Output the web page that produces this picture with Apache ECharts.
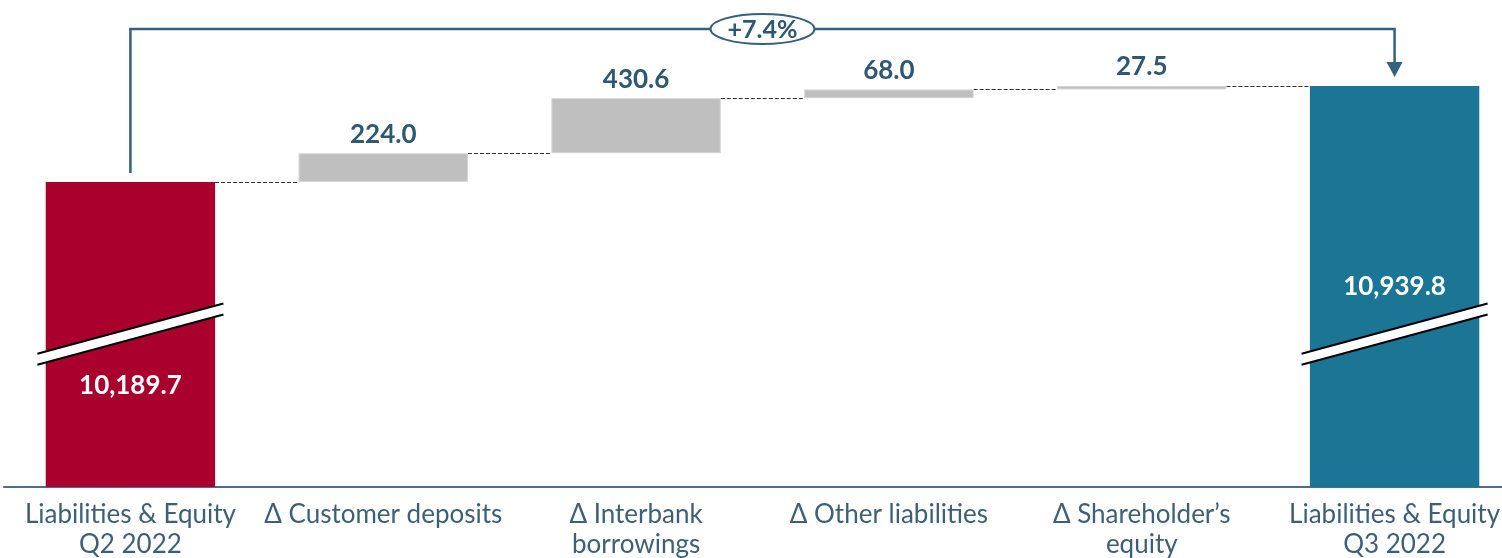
<!DOCTYPE html>
<html>
<head>
<meta charset="utf-8">
<script src="https://cdn.jsdelivr.net/npm/echarts@6/dist/echarts.min.js"></script>
<style>html,body{margin:0;padding:0;background:#fff;}#c{width:1502px;height:558px;}</style>
</head>
<body>
<div id="c"></div>
<script>
const categories = ['Liabilities & Equity\nQ2 2022', 'Δ Customer deposits', 'Δ Interbank\nborrowings', 'Δ Other liabilities', 'Δ Shareholder’s\nequity', 'Liabilities & Equity\nQ3 2022'];
const startTotal = 10189.7;
const deltas = [224.0, 430.6, 68.0, 27.5];
const endTotal = 10939.8;

const FONT = 'Lato';
const RED = '#AA002D', TEAL = '#1B7594', GRAY = '#BFBFBF', DARK = '#2E5872', AXIS = '#4D6E85';

const values = [startTotal, ...deltas, endTotal];
const levels = [startTotal];
deltas.forEach(d => levels.push(levels[levels.length - 1] + d));
const bases = [0, ...levels.slice(0, deltas.length), 0];
const pct = (endTotal / startTotal - 1) * 100;
const fmt = v => v.toLocaleString('en-US', {minimumFractionDigits: 1, maximumFractionDigits: 1});

const mainData = values.map((v, i) => {
  const isTotal = i === 0 || i === values.length - 1;
  const item = {value: v, itemStyle: {color: isTotal ? (i === 0 ? RED : TEAL) : GRAY,
    borderColor: isTotal ? 'transparent' : '#D6D6D6', borderWidth: isTotal ? 0 : 1}};
  if (isTotal) {
    item.label = {show: true, position: 'inside', color: '#fff', offset: i === 0 ? [0, 51] : [0, 0]};
  } else {
    item.label = {show: true, position: 'top', distance: 6, color: DARK};
  }
  return item;
});

const chart = echarts.init(document.getElementById('c'), null, {renderer: 'canvas'});
chart.setOption({
  animation: false,
  backgroundColor: '#fff',
  grid: {left: 4, width: 1517, top: 0, bottom: 71, containLabel: false, outerBoundsMode: 'none'},
  xAxis: {
    type: 'category', data: categories,
    axisTick: {show: false},
    axisLine: {lineStyle: {color: AXIS, width: 2}},
    axisLabel: {interval: 0, color: '#3D6079', fontFamily: FONT, fontSize: 26, lineHeight: 30, margin: 13}
  },
  yAxis: {type: 'value', min: 7806, max: 11611, show: false, splitLine: {show: false}},
  series: [
    {type: 'bar', stack: 'w', data: bases, barWidth: '67%', itemStyle: {color: 'transparent'}, silent: true},
    {type: 'bar', stack: 'w', data: mainData, barWidth: '67%',
      label: {fontFamily: FONT, fontWeight: 'bold', fontSize: 26, formatter: p => fmt(p.value)}},
    {type: 'custom', silent: true, clip: false,
      data: levels.map((v, i) => [i, v]),
      renderItem: (params, api) => {
        const p = api.coord([api.value(0), api.value(1)]);
        const band = api.size([1, 0])[0];
        const y = Math.round(p[1]) + 0.5;
        return {type: 'line', shape: {x1: p[0] + band * 0.335, y1: y, x2: p[0] + band * 0.665, y2: y},
          style: {stroke: '#333', lineWidth: 1, lineDash: [4, 2]}};
      }},
    {type: 'custom', silent: true, clip: false, z: 5,
      data: [[0, 9000], [values.length - 1, 9000]],
      renderItem: (params, api) => {
        const p = api.coord([api.value(0), api.value(1)]);
        const band = api.size([1, 0])[0];
        const h = band * 0.368, dy = h * 0.27, g = 5.5;
        const a = [p[0] - h, p[1] + dy - g], b = [p[0] + h, p[1] - dy - g];
        const c = [p[0] + h, p[1] - dy + g], d = [p[0] - h, p[1] + dy + g];
        return {type: 'group', children: [
          {type: 'polygon', shape: {points: [a, b, c, d]}, style: {fill: '#fff'}},
          {type: 'line', shape: {x1: a[0], y1: a[1], x2: b[0], y2: b[1]}, style: {stroke: '#000', lineWidth: 2}},
          {type: 'line', shape: {x1: d[0], y1: d[1], x2: c[0], y2: c[1]}, style: {stroke: '#000', lineWidth: 2}}
        ]};
      }},
    {type: 'custom', silent: true, clip: false, z: 6,
      data: [[0, startTotal, values.length - 1, endTotal]],
      renderItem: (params, api) => {
        const p0 = api.coord([api.value(0), api.value(1)]);
        const p1 = api.coord([api.value(2), api.value(3)]);
        const topY = params.coordSys.y + 29;
        const tipY = p1[1] - 9;
        const cx = (p0[0] + p1[0]) / 2;
        const col = '#34617D';
        return {type: 'group', children: [
          {type: 'polyline', shape: {points: [[p0[0], p0[1] - 9], [p0[0], topY], [p1[0], topY], [p1[0], tipY - 14]]},
            style: {stroke: col, lineWidth: 2.5, fill: null}},
          {type: 'polygon', shape: {points: [[p1[0] - 8, tipY - 15], [p1[0] + 8, tipY - 15], [p1[0], tipY]]}, style: {fill: col}},
          {type: 'ellipse', shape: {cx: cx, cy: topY, rx: 52, ry: 15}, style: {fill: '#fff', stroke: col, lineWidth: 2}},
          {type: 'text', x: cx, y: topY + 1, style: {text: '+' + pct.toFixed(1) + '%', align: 'center', verticalAlign: 'middle',
            font: 'bold 25px ' + FONT, fill: DARK}}
        ]};
      }}
  ]
});
</script>
</body>
</html>
